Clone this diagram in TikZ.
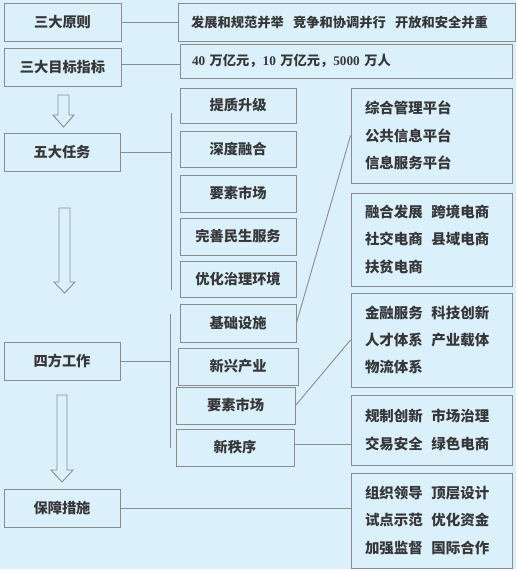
\documentclass[tikz,border=0pt]{standalone}
\usepackage{fontspec}
\setmainfont{Liberation Serif}
\newfontfamily\cjk{Noto Sans CJK SC}
\newfontfamily\latn{Liberation Serif}
\usetikzlibrary{calc}
\definecolor{bg}{RGB}{218,241,251}
\definecolor{edge}{RGB}{140,140,140}
\definecolor{ink}{RGB}{55,55,55}
\begin{document}
\begin{tikzpicture}[x=1bp,y=-1bp,
  box/.style={draw=edge, line width=0.9bp, text=ink, inner sep=0pt,
    font=\cjk\bfseries\fontsize{14.3}{17}\selectfont},
  lbox/.style={box, minimum width=116bp, minimum height=38bp},
  mbox/.style={box, minimum width=116bp},
  tbox/.style={box, align=left, font=\cjk\bfseries\fontsize{13.3}{16}\selectfont},
  rbox/.style={box, text width=133bp, inner xsep=14bp, align=left,
    font=\cjk\bfseries\fontsize{14.5}{27.5}\selectfont},
  conn/.style={draw=edge, line width=0.9bp},
  hollow/.style={draw=edge, line width=0.9bp, fill=bg, line join=miter}]
\useasboundingbox (0,0) rectangle (518,571);
\fill[bg] (0,0) rectangle (516,569);

% left column
\node[lbox, minimum width=117bp] (L1) at (62.5,22) {三大原则};
\node[lbox, minimum width=117bp] (L2) at (62.5,67) {三大目标指标};
\node[lbox] (L3) at (62,152) {五大任务};
\node[lbox] (L4) at (62,361) {四方工作};
\node[lbox] (L5) at (62,508) {保障措施};

% top right boxes
\node[tbox, minimum width=337bp, minimum height=38bp, text width=311bp, inner xsep=13bp] (R1) at (346.5,22)
  {发展和规范并举\hspace{0.7em}竞争和协调并行\hspace{0.7em}开放和安全并重};
\node[tbox, minimum width=332bp, minimum height=34bp, text width=308bp, inner xsep=12bp] (R2) at (346,61)
  {{\latn\bfseries 40} 万亿元，{\latn\bfseries 10} 万亿元，{\latn\bfseries 5000} 万人};

% hollow arrows
\draw[hollow] (58,95) -- (69,95) -- (69,115) -- (74,115) -- (63.5,127) -- (53,115) -- (58,115) -- cycle;
\draw[hollow] (59,208) -- (70,208) -- (70,282) -- (75,282) -- (64.5,293) -- (54,282) -- (59,282) -- cycle;
\draw[hollow] (57,395) -- (67,395) -- (67,470) -- (73,470) -- (62,482) -- (51,470) -- (57,470) -- cycle;

% middle column
\node[mbox, minimum height=35bp] (M1) at (238,105.5) {提质升级};
\node[mbox, minimum height=36bp] (M2) at (238,149) {深度融合};
\node[mbox, minimum height=37bp] (M3) at (238,193.5) {要素市场};
\node[mbox, minimum height=37bp] (M4) at (238,236.5) {完善民生服务};
\node[mbox, minimum height=36bp] (M5) at (238,279) {优化治理环境};
\node[mbox, minimum height=38bp] (M6) at (238,323) {基础设施};
\node[mbox, minimum width=120bp, minimum height=37bp] (M7) at (238,366.5) {新兴产业};
\node[mbox, minimum width=119bp, minimum height=37bp] (M8) at (235.5,405.5) {要素市场};
\node[mbox, minimum width=118bp, minimum height=37bp] (M9) at (235,447.5) {新秩序};

% right column
\node[rbox, minimum height=95bp] (RB1) at (431.5,135.5)
  {综合管理平台\\公共信息平台\\信息服务平台};
\node[rbox, minimum height=93bp] (RB2) at (431.5,239.5)
  {融合发展\hspace{0.6em}跨境电商\\社交电商\hspace{0.6em}县域电商\\扶贫电商};
\node[rbox, minimum height=94bp] (RB3) at (431.5,340)
  {金融服务\hspace{0.6em}科技创新\\人才体系\hspace{0.6em}产业载体\\物流体系};
\node[rbox, minimum height=70bp] (RB4) at (431.5,430)
  {规制创新\hspace{0.6em}市场治理\\交易安全\hspace{0.6em}绿色电商};
\node[rbox, minimum height=95bp] (RB5) at (431.5,520.5)
  {组织领导\hspace{0.6em}顶层设计\\试点示范\hspace{0.6em}优化资金\\加强监督\hspace{0.6em}国际合作};

% trunks
\coordinate (t1a) at (171,113);
\coordinate (t1b) at (171,290);
\coordinate (t2a) at (170,314);
\coordinate (t2b) at (170,448);
\draw[conn] (t1a) -- (t1b);
\draw[conn] (t2a) -- (t2b);

% connectors
\draw[conn] (L1.east) -- (R1.west);
\draw[conn] ([yshift=3bp]L2.east) coordinate (p2) -- (p2 -| R2.west);
\draw[conn] (L3.east) -- (L3.east -| t1a);
\draw[conn] (L4.east) -- (L4.east -| t2a);
\draw[conn] (L5.east) -- (L5.east -| RB5.west);
\draw[conn] (M6.east) -- (RB1.west);
\draw[conn] (M8.east) -- (RB3.west);
\draw[conn] ([yshift=3bp]M9.east) coordinate (p9) -- (p9 -| RB4.west);
\end{tikzpicture}
\end{document}
